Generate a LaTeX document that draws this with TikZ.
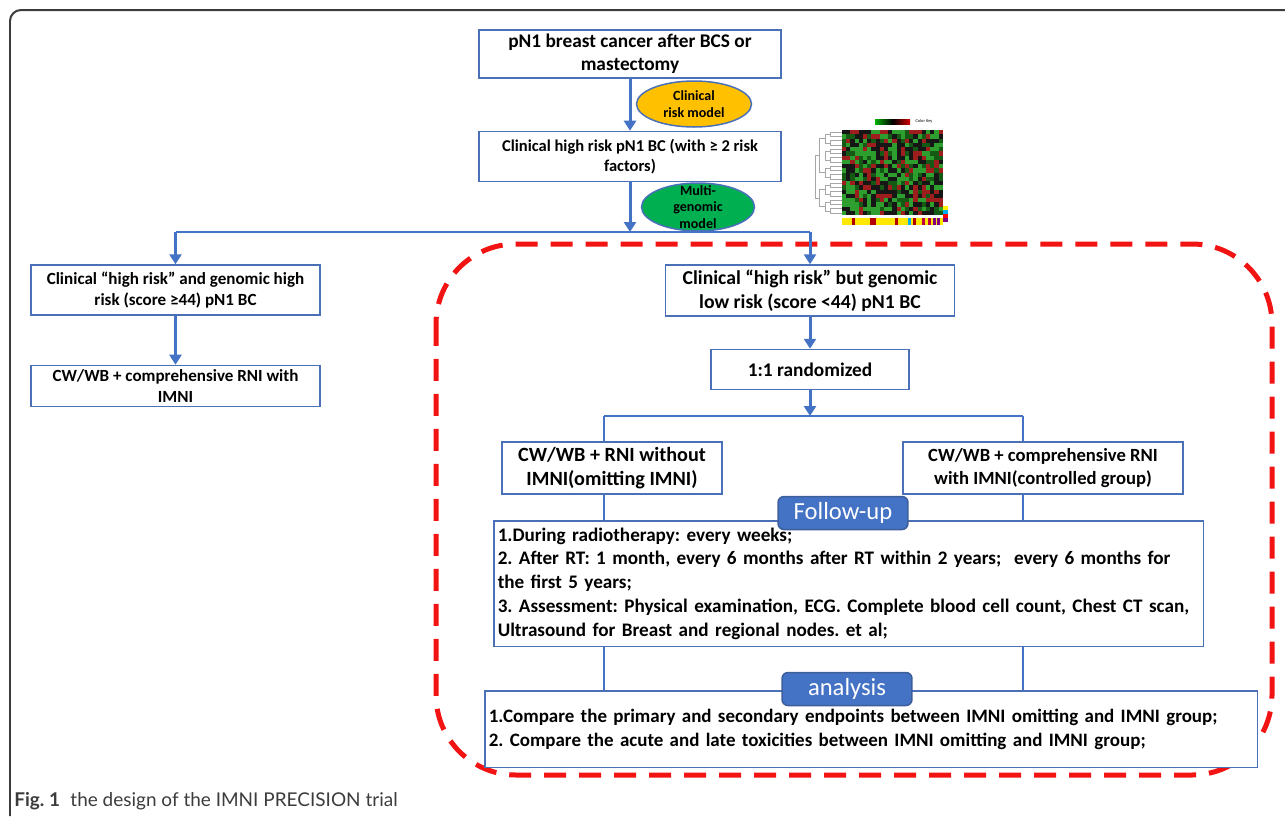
\documentclass[tikz,border=0pt]{standalone}
\usepackage{fontspec}
\setmainfont{Carlito}
\newfontfamily\capfont{Lato}
\usepackage{xcolor}
\usepackage{tikz}
\usetikzlibrary{shapes,arrows,arrows.meta,positioning}
\frenchspacing

\definecolor{boxblue}{HTML}{4A70B8}
\definecolor{lineblue}{HTML}{4472C4}
\definecolor{tagblue}{HTML}{4472C4}
\definecolor{riskyellow}{HTML}{FFC000}
\definecolor{genegreen}{HTML}{00B050}
\definecolor{dashred}{HTML}{F21313}
\definecolor{framegray}{HTML}{3C3C3C}
\definecolor{hmG}{HTML}{2E9E2E}
\definecolor{hmL}{HTML}{145A14}
\definecolor{hmK}{HTML}{161616}
\definecolor{hmR}{HTML}{9E1E1E}

\newcommand{\fsz}[1]{\fontsize{#1}{1.2\dimexpr#1pt\relax}\selectfont\bfseries}

\begin{document}
\begin{tikzpicture}[
    x=0.02cm, y=-0.02cm,
    box/.style={rectangle, draw=boxblue, line width=0.03cm, fill=white, align=center, inner sep=2pt, font=\fsz{11}},
    oval/.style={ellipse, draw=boxblue, line width=0.03cm, align=center, inner sep=0pt, font=\fontsize{8}{9.6}\selectfont\bfseries},
    note/.style={box, align=left, inner xsep=0.08cm, font=\fontsize{10.9}{13.6}\selectfont\bfseries},
    tag/.style={rectangle, rounded corners=0.12cm, fill=tagblue, draw=boxblue!85!black, line width=0.03cm, text=white, font=\fontsize{14}{16}\selectfont, minimum width=2.6cm, minimum height=0.66cm},
    arrow/.style={->, >={Triangle[length=0.2cm, width=0.24cm]}, draw=lineblue, fill=lineblue, line width=0.06cm},
    link/.style={draw=lineblue, line width=0.03cm},
    dendro/.style={draw=gray!70, line width=0.15pt}
]
\useasboundingbox (0,0) rectangle (1285,816);

% figure frame and caption
\draw[framegray, line width=0.04cm, rounded corners=0.22cm] (1285,10) -- (10,10) -- (10,816);
\node[anchor=base west, inner sep=0pt, text=framegray, font=\capfont\fontsize{10.8}{12}\selectfont] (cap) at (14,806)
    {\textbf{Fig. 1}\hspace{0.55em}the design of the IMNI PRECISION trial};

% randomised arm region
\draw[dashred, line width=0.1cm, dash pattern=on 0.44cm off 0.26cm, rounded corners=1.6cm] (436,244) rectangle (1272,775);

% Screening
\node[box, minimum width=6.04cm, minimum height=0.96cm] (top) at (630,54) {pN1 breast cancer after BCS or\\mastectomy};
\node[box, font=\fsz{9.4}, minimum width=6.04cm, minimum height=1cm, below=1.04cm of top] (clin) {Clinical high risk pN1 BC (with ≥ 2 risk\\factors)};
\node[oval, fill=riskyellow, minimum width=2.3cm, minimum height=0.92cm] (riskm) at (694,104) {Clinical\\risk model};
\node[oval, fill=genegreen, minimum width=2.26cm, minimum height=0.96cm, inner ysep=-4pt] (genem) at (698,207) {Multi-\\genomic\\model};

\coordinate (split) at (630,232);
\draw[arrow] (top) -- (clin);
\draw[arrow] (clin) -- (split);

% Genomic high risk
\node[box, font=\fsz{9.7}, minimum width=5.78cm, minimum height=1cm] (hiA) at (175.5,290) {Clinical “high risk” and genomic high\\risk (score ≥44) pN1 BC};
\node[box, font=\fsz{9.7}, minimum width=5.78cm, minimum height=0.82cm, below=0.98cm of hiA] (hiB) {CW/WB + comprehensive RNI with\\IMNI};

% Genomic low risk
\node[box, font=\fsz{11.2}, minimum width=5.78cm, minimum height=1.02cm] (lowC) at (810,290.5) {Clinical “high risk” but genomic\\low risk (score <44) pN1 BC};
\node[box, minimum width=3.96cm, minimum height=0.8cm, below=0.64cm of lowC] (rand) {1:1 randomized};
\node[box, font=\fsz{11.5}, minimum width=4.4cm, minimum height=1.04cm] (armE) at (612,468) {CW/WB + RNI without\\IMNI(omitting IMNI)};
\node[box, font=\fsz{10.6}, minimum width=5.6cm, minimum height=1.04cm] (armF) at (1043,468) {CW/WB + comprehensive RNI\\with IMNI(controlled group)};

\draw[link] (split -| hiA) -- (split -| lowC);
\draw[arrow] (split -| hiA) -- (hiA);
\draw[arrow] (hiA) -- (hiB);
\draw[arrow] (split -| lowC) -- (lowC);
\draw[arrow] (lowC) -- (rand);

\coordinate (eL) at (604,416);
\coordinate (eR) at (1023,416);
\draw[arrow] (rand) -- (rand |- eL);
\draw[link] (eL) -- (eR);
\draw[link] (eL) -- (eL |- armE.north);
\draw[link] (eR) -- (eR |- armF.north);

% Follow-up and analysis
\node[note, anchor=north west, text width=14.04cm, minimum height=2.52cm] (fu) at (493,520) {%
1.During radiotherapy: every weeks;\\
2. After RT: 1 month, every 6 months after RT within 2 years;\ \ every 6 months for\\
the first 5 years;\\
3. Assessment: Physical examination, ECG. Complete blood cell count, Chest CT scan,\\
Ultrasound for Breast and regional nodes. et al;};
\node[note, font=\fontsize{10.8}{13.4}\selectfont\bfseries, anchor=north west, text width=15.3cm, minimum height=1.54cm] (an) at (484,690) {%
1.Compare the primary and secondary endpoints between IMNI omitting and IMNI group;\\
2. Compare the acute and late toxicities between IMNI omitting and IMNI group;};

\draw[link] (eL |- armE.south) -- (eL |- fu.north);
\draw[link] (eR |- armF.south) -- (eR |- fu.north);
\draw[link] (eL |- fu.south) -- (eL |- an.north);
\draw[link] (eR |- fu.south) -- (eR |- an.north);

\node[tag] (fuTag) at (843,513) {Follow-up};
\node[tag] (anTag) at (847,689) {analysis};

% heat map
\pgfmathsetseed{17}
\pgfmathdeclarerandomlist{hmcol}{{hmG}{hmG}{hmL}{hmK}{hmK}{hmR}}
\foreach \i in {0,...,23}{
  \foreach \j in {0,...,19}{
    \pgfmathrandomitem{\c}{hmcol}
    \fill[fill=\c] (842+\i*4.2,130+\j*4.25) rectangle ++(4.2,4.25);
  }
}
\fill[yellow!90!orange] (842,218) rectangle (943,225);
\foreach \i/\c in {10/red!70!black, 28/red!70!black, 31/red!70!black, 53/red!70!black, 66/cyan, 71/red!70!black, 80/purple, 86/purple, 91/violet, 95/violet}
  \fill[fill=\c] (842+\i,218) rectangle ++(3,7);
\foreach \j in {0,...,19}
  \draw[dendro] (834,132.1+\j*4.25) -- (842,132.1+\j*4.25);
\foreach \j in {0,2,...,18}
  \draw[dendro] (834,132.1+\j*4.25) -- (830,132.1+\j*4.25) -- (830,136.35+\j*4.25) -- (834,136.35+\j*4.25);
\foreach \j in {0,4,...,16}
  \draw[dendro] (830,134.2+\j*4.25) -- (825,134.2+\j*4.25) -- (825,142.7+\j*4.25) -- (830,142.7+\j*4.25);
\draw[dendro] (825,138.5) -- (819,138.5) -- (819,172.5) -- (825,172.5);
\draw[dendro] (825,189.5) -- (819,189.5) -- (819,206.5) -- (825,206.5);
\draw[dendro] (819,155.5) -- (815,155.5) -- (815,198) -- (819,198);
\shade[left color=green!70!black, right color=red!85!black, middle color=black] (875,119) rectangle (910,124);
\node[inner sep=0pt, font=\fontsize{2.5}{3}\selectfont] (key) at (924,121.5) {Color Key};
\foreach \k/\c in {0/yellow, 1/cyan, 2/red, 3/violet}
  \fill[fill=\c] (943,206+\k*4) rectangle ++(5,4);

\end{tikzpicture}
\end{document}
